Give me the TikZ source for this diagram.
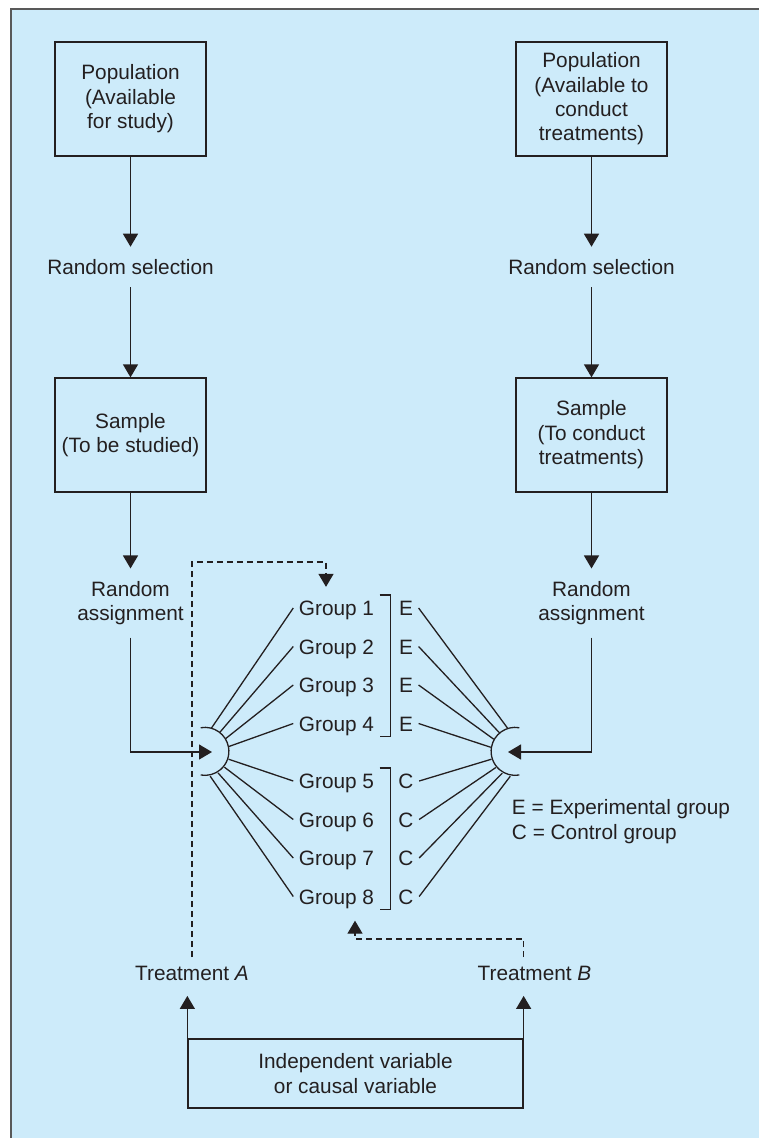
\documentclass[tikz,border=0pt]{standalone}
\usepackage{fontspec}
\setmainfont{Liberation Sans}
\usetikzlibrary{arrows.meta}
\definecolor{panel}{RGB}{205,235,250}
\definecolor{ink}{RGB}{35,31,32}
\tikzset{node distance=168pt,>={Triangle[length=13pt,width=15pt]}}
\tikzset{
  box/.style={draw,align=center,minimum width=151pt,minimum height=114pt},
  txt/.style={align=center,inner sep=12pt},
  grp/.style={node distance=38.5pt,text height=15pt,text depth=0pt,inner sep=5pt},
  hub/.style={circle,minimum size=48pt,inner sep=0pt},
  treat/.style={inner sep=8pt},
  dashlink/.style={dash pattern=on 6pt off 4pt}
}

\begin{document}
\begin{tikzpicture}[x=1pt,y=-1pt,line width=1.3pt,ink,
    every node/.style={font=\fontsize{20.8pt}{24.4pt}\selectfont}]
  \useasboundingbox (0,0) rectangle (759,1138);
  \fill[panel] (11,9) rectangle (759,1138);
  \draw[line width=1.5pt,black!65] (11,1138) -- (11,9) -- (759,9);

  % study side
  \node[box] (popA) at (130.5,99) {Population\\(Available\\for study)};
  \node[txt] (selA) [below of=popA] {Random selection};
  \node[box] (smpA) [below of=selA] {Sample\\(To be studied)};
  \node[txt] (asgA) [below of=smpA] {Random\\assignment};

  % treatment side
  \node[box] (popB) at (591.5,99) {Population\\(Available to\\conduct\\treatments)};
  \node[txt] (selB) [below of=popB] {Random selection};
  \node[box] (smpB) [below of=selB] {Sample\\(To conduct\\treatments)};
  \node[txt] (asgB) [below of=smpB] {Random\\assignment};

  \draw[->] (popA) -- (selA);
  \draw[->] (selA) -- (smpA);
  \draw[->] (smpA) -- (asgA);
  \draw[->] (popB) -- (selB);
  \draw[->] (selB) -- (smpB);
  \draw[->] (smpB) -- (asgB);

  % groups
  \node[grp] (g1) at (336.5,608) {Group 1};
  \node[grp] (g2) [below of=g1] {Group 2};
  \node[grp] (g3) [below of=g2] {Group 3};
  \node[grp] (g4) [below of=g3] {Group 4};
  \node[grp,node distance=57.5pt] (g5) [below of=g4] {Group 5};
  \node[grp] (g6) [below of=g5] {Group 6};
  \node[grp] (g7) [below of=g6] {Group 7};
  \node[grp] (g8) [below of=g7] {Group 8};

  \node[grp,node distance=69.5pt] (e1) [right of=g1] {E};
  \node[grp,node distance=69.5pt] (e2) [right of=g2] {E};
  \node[grp,node distance=69.5pt] (e3) [right of=g3] {E};
  \node[grp,node distance=69.5pt] (e4) [right of=g4] {E};
  \node[grp,node distance=69.5pt] (c5) [right of=g5] {C};
  \node[grp,node distance=69.5pt] (c6) [right of=g6] {C};
  \node[grp,node distance=69.5pt] (c7) [right of=g7] {C};
  \node[grp,node distance=69.5pt] (c8) [right of=g8] {C};

  \draw (g1.north east) -- ++(11,0) |- (g4.south east);
  \draw (g5.north east) -- ++(11,0) |- (g8.south east);

  \node[anchor=west,align=left] (key) at (508,821.5) {E = Experimental group\\C = Control group};

  % assignment hubs
  \node[hub] (hubL) at (205,752) {};
  \node[hub] (hubR) at (515,752) {};
  \draw (hubL.100) arc[start angle=100,end angle=-100,radius=24pt];
  \draw (hubR.80) arc[start angle=80,end angle=280,radius=24pt];

  \draw[->] (asgA) |- ([xshift=7pt]hubL.center);
  \draw[->] (asgB) |- ([xshift=-7pt]hubR.center);

  \foreach \g/\a in {g1/75,g2/53,g3/33,g4/13,g5/343,g6/322,g7/302,g8/282}
    \draw (hubL.\a) -- (\g.west);
  \foreach \g/\a in {e1/107,e2/129,e3/149,e4/169,c5/197,c6/219,c7/239,c8/259}
    \draw (\g.east) -- (hubR.\a);

  % treatments
  \node[treat] (trA) at (192,973) {Treatment \textit{A}};
  \node[treat] (trB) at (534.5,973) {Treatment \textit{B}};
  \node[draw,align=center,minimum width=335pt,minimum height=69pt] (iv) at (355.5,1073.5)
    {Independent variable\\or causal variable};

  \draw[->,shorten >=7pt] (iv.north west) -- (iv.north west |- trA.south);
  \draw[->,shorten >=7pt] (iv.north east) -- (iv.north east |- trB.south);

  \coordinate (dA) at (326,562);
  \coordinate (dB) at (355,939);
  \draw[dashlink,->,shorten >=8pt] (trA.north) |- (dA) -- (dA |- g1.north);
  \draw[dashlink,->,shorten >=11pt] (trB.north -| iv.north east) |- (dB) -- (dB |- g8.south);
\end{tikzpicture}
\end{document}
